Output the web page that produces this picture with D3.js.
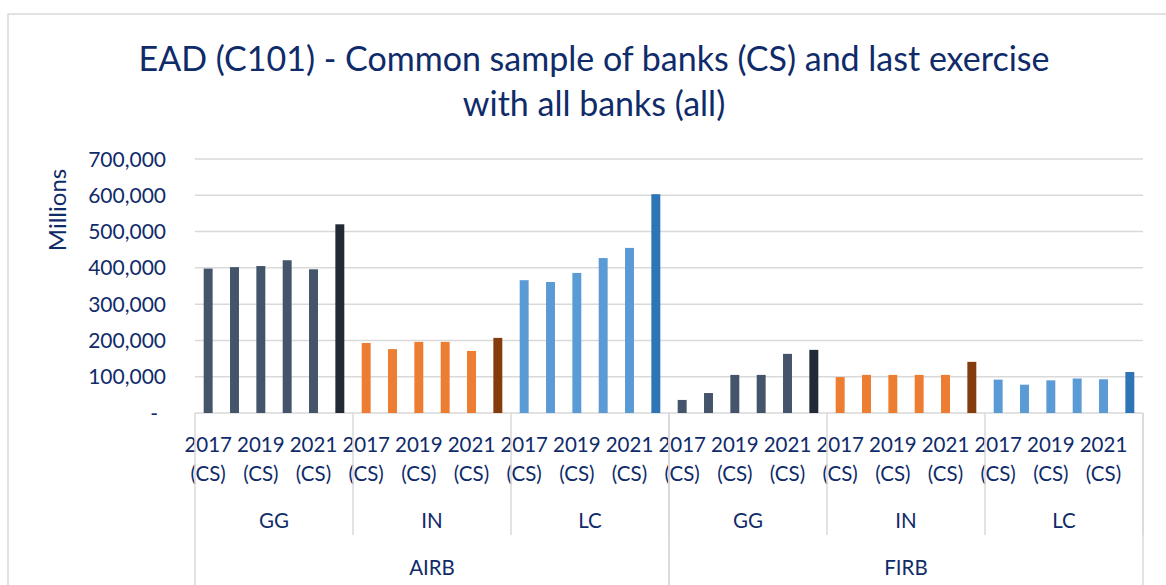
<!DOCTYPE html>
<html>
<head>
<meta charset="utf-8">
<script src="https://cdn.jsdelivr.net/npm/d3@7"></script>
<style>
  html, body { margin: 0; padding: 0; background: #fff; }
  svg { display: block; }
  text { font-family: Lato, "Open Sans", sans-serif; fill: #0f2b69; }
</style>
</head>
<body>
<svg id="chart" width="1166" height="585"></svg>
<script>
// ---- data ----
const approaches = ["AIRB", "FIRB"];
const classes = ["GG", "IN", "LC"];
const periods = ["2017 (CS)", "2018 (CS)", "2019 (CS)", "2020 (CS)", "2021 (CS)", "2021 (all)"];
const yTicks = [0, 100000, 200000, 300000, 400000, 500000, 600000, 700000];
const titleLines = ["EAD (C101) - Common sample of banks (CS) and last exercise", "with all banks (all)"];
const yTitle = "Millions";

const airbGG = [398000, 402000, 405000, 421000, 396000, 520000];
const airbIN = [193000, 176000, 196000, 196000, 171000, 207000];
const airbLC = [366000, 361000, 386000, 427000, 455000, 603000];
const firbGG = [36000, 55000, 105000, 105000, 163000, 174000];
const firbIN = [99000, 105000, 105000, 105000, 105000, 141000];
const firbLC = [92000, 78000, 90000, 95000, 93000, 113000];

const seriesValues = { AIRB: { GG: airbGG, IN: airbIN, LC: airbLC }, FIRB: { GG: firbGG, IN: firbIN, LC: firbLC } };
const colorsCS = { GG: "#44546A", IN: "#ED7D31", LC: "#5B9BD5" };
const colorsAll = { GG: "#222A35", IN: "#843C0C", LC: "#2E75B6" };

// flatten
const rows = [];
approaches.forEach(a => classes.forEach(c => periods.forEach((p, i) => {
  rows.push({ key: a + "|" + c + "|" + p, approach: a, cls: c, period: p, idx: i, value: seriesValues[a][c][i] });
})));

const svg = d3.select("#chart");
const gridColor = "#d9d9d9";

// chart border
svg.append("rect").attr("x", 8).attr("y", 14).attr("width", 1200).attr("height", 700)
  .attr("fill", "none").attr("stroke", gridColor).attr("stroke-width", 1.5);

const plotL = 195, plotR = 1143, plotB = 413, plotT = 159;
const x = d3.scaleBand().domain(rows.map(r => r.key)).range([plotL, plotR]).padding(0);
const y = d3.scaleLinear().domain([0, 700000]).range([plotB, plotT]);

// gridlines
svg.append("g").selectAll("line").data(yTicks).join("line")
  .attr("x1", plotL).attr("x2", plotR)
  .attr("y1", d => y(d)).attr("y2", d => y(d))
  .attr("stroke", gridColor).attr("stroke-width", 1.5);

// y tick labels
const fmt = d3.format(",");
svg.append("g").selectAll("text").data(yTicks).join("text")
  .attr("x", d => d === 0 ? 158 : 166)
  .attr("y", d => y(d))
  .attr("dy", "0.36em")
  .attr("text-anchor", "end")
  .style("font-size", "21px")
  .text(d => d === 0 ? "-" : fmt(d));

// y axis title
svg.append("text")
  .attr("transform", "translate(66,210) rotate(-90)")
  .attr("text-anchor", "middle")
  .style("font-size", "24px")
  .text(yTitle);

// bars
const barW = x.bandwidth() * 0.34;
svg.append("g").selectAll("rect").data(rows).join("rect")
  .attr("x", d => x(d.key) + (x.bandwidth() - barW) / 2)
  .attr("width", barW)
  .attr("y", d => y(d.value))
  .attr("height", d => y(0) - y(d.value))
  .attr("fill", d => d.idx === periods.length - 1 ? colorsAll[d.cls] : colorsCS[d.cls]);

// x axis: period labels (every other shown)
const lab = svg.append("g");
rows.filter(r => r.idx % 2 === 0).forEach(r => {
  const cx = x(r.key) + x.bandwidth() / 2;
  const parts = r.period.split(" ");
  lab.append("text").attr("x", cx).attr("y", 452).attr("text-anchor", "middle")
    .style("font-size", "20.5px").text(parts[0]);
  lab.append("text").attr("x", cx).attr("y", 481).attr("text-anchor", "middle")
    .style("font-size", "20.5px").text(parts.slice(1).join(" "));
});

// group separators and labels
const groupStart = (a, c) => x(a + "|" + c + "|" + periods[0]);
const groupEnd = (a, c) => x(a + "|" + c + "|" + periods[periods.length - 1]) + x.bandwidth();
const sep = svg.append("g");
approaches.forEach(a => {
  classes.forEach(c => {
    const gx0 = groupStart(a, c), gx1 = groupEnd(a, c);
    sep.append("line").attr("x1", gx1).attr("x2", gx1).attr("y1", plotB).attr("y2", 535)
      .attr("stroke", gridColor).attr("stroke-width", 1.5);
    sep.append("text").attr("x", (gx0 + gx1) / 2).attr("y", 528).attr("text-anchor", "middle")
      .style("font-size", "20.5px").text(c);
  });
  const ax0 = groupStart(a, classes[0]), ax1 = groupEnd(a, classes[classes.length - 1]);
  sep.append("line").attr("x1", ax0).attr("x2", ax0).attr("y1", plotB).attr("y2", 585)
    .attr("stroke", gridColor).attr("stroke-width", 1.5);
  sep.append("line").attr("x1", ax1).attr("x2", ax1).attr("y1", plotB).attr("y2", 585)
    .attr("stroke", gridColor).attr("stroke-width", 1.5);
  sep.append("text").attr("x", (ax0 + ax1) / 2).attr("y", 575).attr("text-anchor", "middle")
    .style("font-size", "20.5px").text(a);
});

// title
const title = svg.append("g");
titleLines.forEach((t, i) => {
  title.append("text").attr("x", 594).attr("y", 71 + i * 45).attr("text-anchor", "middle")
    .style("font-size", "34px").text(t);
});
</script>
</body>
</html>
